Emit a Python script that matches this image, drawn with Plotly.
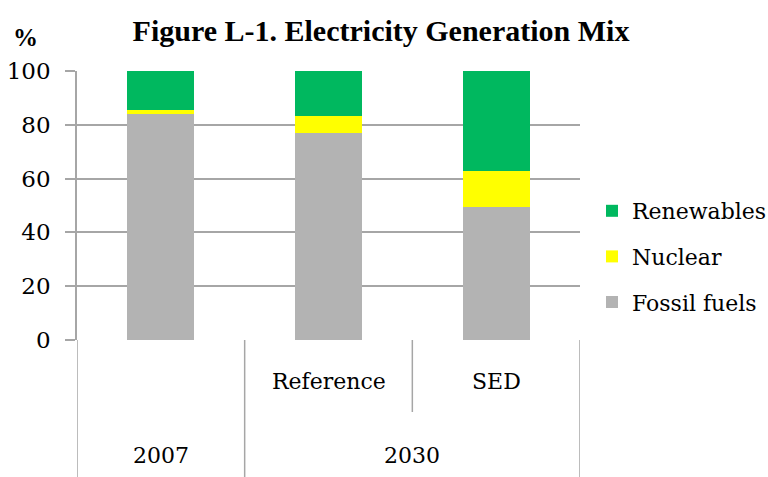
import plotly.graph_objects as go

categories = ["2007", "Reference", "SED"]
fossil = [84.0, 77.0, 49.3]
nuclear = [1.5, 6.3, 13.4]
renewables = [14.5, 16.7, 37.3]

group_labels = ["2007", "2030"]
sub_labels = ["", "Reference", "SED"]

FONT = "DejaVu Serif"
GRID = "#a6a6a6"

fig = go.Figure()
fig.add_trace(go.Bar(x=categories, y=fossil, name="Fossil fuels", marker=dict(color="#b3b3b3", line=dict(width=0)),
                     legendgroup="f", legendrank=3))
fig.add_trace(go.Bar(x=categories, y=nuclear, name="Nuclear", marker=dict(color="#ffff00", line=dict(width=0)),
                     legendgroup="n", legendrank=2))
fig.add_trace(go.Bar(x=categories, y=renewables, name="Renewables", marker=dict(color="#00b85f", line=dict(width=0)),
                     legendgroup="r", legendrank=1))

H = 477
W = 768
t, b = 71, 137
ph = H - t - b

def py(px):
    # pixel y (from top) -> paper y
    return (H - b - px) / ph

shapes = []
for xv, ybot in [(-0.5, 477), (0.5, 477), (1.5, 412), (2.5, 477)]:
    shapes.append(dict(type="line", xref="x", yref="paper", x0=xv, x1=xv, y0=0, y1=py(ybot),
                       line=dict(color=GRID, width=1.5)))

annotations = []
for i, s in enumerate(sub_labels):
    if s:
        annotations.append(dict(x=categories[i], y=py(381), xref="x", yref="paper", text=s, showarrow=False,
                                font=dict(family=FONT, size=22, color="black"), yanchor="middle"))
annotations.append(dict(x=0, y=py(455), xref="x", yref="paper", text=group_labels[0], showarrow=False,
                        font=dict(family=FONT, size=22, color="black"), yanchor="middle"))
annotations.append(dict(x=1.5, y=py(455), xref="x", yref="paper", text=group_labels[1], showarrow=False,
                        font=dict(family=FONT, size=22, color="black"), yanchor="middle"))
annotations.append(dict(x=(25 - 77) / 503, y=py(37), xref="paper", yref="paper", text="<b>%</b>", showarrow=False,
                        font=dict(family="Liberation Serif", size=25, color="black"), xanchor="center", yanchor="middle"))

fig.update_layout(
    width=W, height=H,
    margin=dict(l=77, r=188, t=t, b=b, autoexpand=False),
    paper_bgcolor="white", plot_bgcolor="white",
    barmode="stack", bargap=0.6,
    title=dict(text="<b>Figure L-1. Electricity Generation Mix</b>", x=381 / W, xref="container",
               xanchor="center", y=1 - 30 / H, yanchor="middle",
               font=dict(family="Liberation Serif", size=30, color="black")),
    xaxis=dict(type="category", showticklabels=False, showgrid=False, showline=False, zeroline=False,
               range=[-0.5, 2.5]),
    yaxis=dict(range=[0, 100], dtick=20, showgrid=True, gridcolor=GRID, gridwidth=1.5,
               ticks="outside", ticklen=10, tickcolor=GRID, tickwidth=1.5,
               showline=True, linecolor=GRID, linewidth=1.5, zeroline=False, ticklabelstandoff=10,
               tickfont=dict(family=FONT, size=23, color="black")),
    legend=dict(x=(592 - 77) / 503, y=py(190), xanchor="left", yanchor="top", traceorder="grouped",
                tracegroupgap=14, font=dict(family=FONT, size=22, color="black"), bgcolor="rgba(0,0,0,0)"),
    shapes=shapes, annotations=annotations, showlegend=True,
)

fig.write_html("out.html", config={"displayModeBar": False},
               post_script="document.body.style.margin='0';document.body.style.padding='0';")
